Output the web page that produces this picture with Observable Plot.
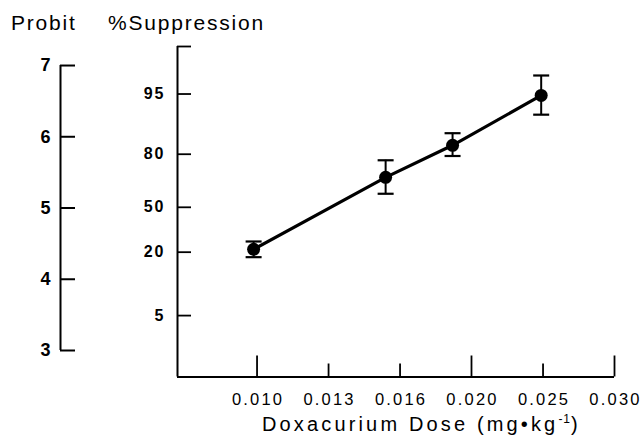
<!DOCTYPE html>
<html><head><meta charset="utf-8">
<script src="https://cdn.jsdelivr.net/npm/d3@7"></script>
<script src="https://cdn.jsdelivr.net/npm/@observablehq/plot@0.6"></script>
<style>
body{margin:0;background:#fff;}
#wrap{position:relative;width:641px;height:438px;font-family:"Liberation Sans",Arial,Helvetica,sans-serif;color:#000;overflow:hidden;}
#wrap svg{position:absolute;left:0;top:0;}
#main [aria-label="x-axis tick label"]{letter-spacing:2.2px;font-size:16.5px;}
#main [aria-label="y-axis tick label"]{letter-spacing:2px;font-size:16px;font-weight:bold;}
#probit [aria-label="y-axis tick label"]{letter-spacing:1px;font-size:18px;font-weight:bold;}
.t{position:absolute;white-space:nowrap;line-height:1;}
</style></head><body>
<div id="wrap">
  <div class="t" style="left:11px;top:12px;font-size:21px;letter-spacing:1.8px">Probit</div>
  <div class="t" style="left:108px;top:12px;font-size:21px;letter-spacing:1.8px">%Suppression</div>
  <div class="t" style="left:262px;top:413px;font-size:20px;letter-spacing:3.15px">Doxacurium Dose (mg•kg<sup style="font-size:0.6em;letter-spacing:1px">-1</sup>)</div>
</div>
<script>
// data (dose in mg/kg, response in probit units)
const doses = [0.00989, 0.01513, 0.01877, 0.02497];
const probits = [4.42, 5.43, 5.88, 6.58];
const probitLow = [4.31, 5.20, 5.73, 6.31];
const probitHigh = [4.53, 5.67, 6.05, 6.86];

// left probit axis
const probitTicks = [3, 4, 5, 6, 7];
// %Suppression axis: labels and their positions (probit units, as drawn)
const pctLabels = ["5", "20", "50", "80", "95"];
const pctTickProbit = [3.49, 4.38, 5.01, 5.755, 6.60];
// x axis (log-spaced dose ticks)
const xTickValues = [0.01, 0.01259, 0.01585, 0.01995, 0.02512, 0.03162];
const xTickLabels = ["0.010", "0.013", "0.016", "0.020", "0.025", "0.030"];
const xTickMajor = [true, false, false, true, false, true];

const xDomain = [0.00774, 0.03162];
const yDomain = [2.628, 7.267];

const data = doses.map((d, i) => ({dose: d, probit: probits[i], lo: probitLow[i], hi: probitHigh[i]}));
const pctMap = new Map(pctTickProbit.map((v, i) => [v, pctLabels[i]]));
const xLabelMap = new Map(xTickValues.map((v, i) => [v, xTickLabels[i]]));
const cap = {draw(ctx, size) { const r = Math.sqrt(size / Math.PI); ctx.moveTo(-r, 0); ctx.lineTo(r, 0); }};

const common = {
  height: 438, marginTop: 46, marginBottom: 61.5,
  style: {fontFamily: '"Liberation Sans", Arial, Helvetica, sans-serif', fontSize: "16px", color: "#000", background: "transparent", overflow: "visible"}
};

const main = Plot.plot({
  ...common,
  width: 641, marginLeft: 177, marginRight: 27,
  x: {type: "log", domain: xDomain},
  y: {domain: yDomain},
  marks: [
    Plot.ruleX([xDomain[0]], {strokeWidth: 2}),
    Plot.ruleY([yDomain[0]], {strokeWidth: 2}),
    Plot.axisY(pctTickProbit.concat([yDomain[1]]), {tickSize: 14, dx: 14, fill: "none", strokeWidth: 1.8, label: null}),
    Plot.axisY(pctTickProbit, {tickSize: 0, tickPadding: 12, tickFormat: d => pctMap.get(d), fontSize: 16, fontWeight: "bold", label: null}),
    Plot.axisX(xTickValues.filter((d, i) => xTickMajor[i]), {tickSize: 21, dy: -21, fill: "none", strokeWidth: 1.8, label: null}),
    Plot.axisX(xTickValues.filter((d, i) => !xTickMajor[i]), {tickSize: 13, dy: -13, fill: "none", strokeWidth: 1.8, label: null}),
    Plot.axisX(xTickValues, {tickSize: 0, tickPadding: 16.5, tickFormat: d => xLabelMap.get(d), fontSize: 16.5, label: null, dx: 1}),
    Plot.line(data, {x: "dose", y: "probit", strokeWidth: 3.2}),
    Plot.ruleX(data, {x: "dose", y1: "lo", y2: "hi", strokeWidth: 2}),
    Plot.dot(data, {x: "dose", y: "lo", symbol: cap, r: 8, stroke: "black", strokeWidth: 2.2, fill: "none"}),
    Plot.dot(data, {x: "dose", y: "hi", symbol: cap, r: 8, stroke: "black", strokeWidth: 2.2, fill: "none"}),
    Plot.dot(data, {x: "dose", y: "probit", r: 6.5, fill: "black", stroke: "none"})
  ]
});
main.id = "main";

const probitPlot = Plot.plot({
  ...common,
  width: 100, marginLeft: 60, marginRight: 25,
  x: {domain: [0, 1], axis: null},
  y: {domain: yDomain},
  marks: [
    Plot.ruleX([0], {y1: () => probitTicks[0], y2: () => probitTicks[probitTicks.length - 1], strokeWidth: 2}),
    Plot.ruleY(probitTicks, {strokeWidth: 2}),
    Plot.axisY(probitTicks, {tickSize: 0, tickPadding: 9, tickFormat: d => String(d), fontSize: 18, fontWeight: "bold", label: null})
  ]
});
probitPlot.id = "probit";

const wrap = document.getElementById("wrap");
wrap.prepend(probitPlot);
wrap.prepend(main);
</script>
</body></html>
